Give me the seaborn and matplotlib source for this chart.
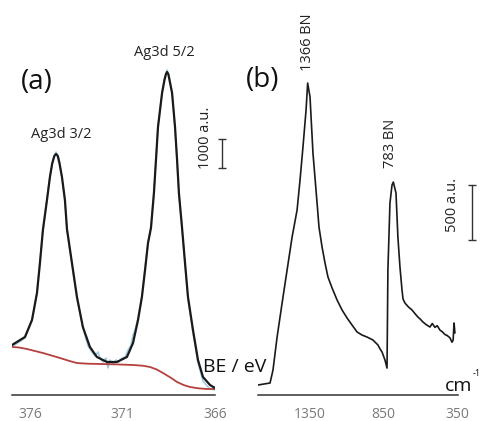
import matplotlib
matplotlib.use("Agg")
import matplotlib.pyplot as plt
import seaborn as sns
import pandas as pd

sns.set_style("white")
plt.rcParams['font.family'] = ['Open Sans', 'DejaVu Sans']

# ---------------- Panel (a): XPS Ag3d ----------------
be_fit = [376.97, 376.27, 375.89, 375.62, 375.46, 375.30, 375.08, 374.92, 374.80, 374.68, 374.59,
          374.50, 374.40, 374.27, 374.11, 374.00, 373.73, 373.46, 373.14, 372.76, 372.38, 371.84,
          371.30, 370.76, 370.43, 370.16, 369.95, 369.78, 369.62, 369.46, 369.30, 369.19,
          369.08, 368.86, 368.73, 368.65, 368.59, 368.52, 368.46, 368.32, 368.16, 368.05, 367.95, 367.78,
          367.62, 367.46, 367.19, 366.92, 366.65, 366.27, 366.00]
int_fit = [1725, 2001, 2588, 3519, 4554, 5693, 6728, 7521, 7980, 8250, 8315,
           8250, 7980, 7521, 6728, 5727, 4554, 3381, 2346, 1656, 1311, 1139,
           1139, 1311, 1794, 2588, 3381, 4313, 5244, 5762, 6969, 8108,
           9246, 10419, 10868, 11070, 11144, 11070, 10868, 10419, 9246, 8108, 6969, 5762,
           4554, 3381, 2243, 1208, 621, 345, 242]

be_raw = [376.97, 376.27, 375.89, 375.62, 375.46, 375.30, 375.08, 374.92, 374.76, 374.59,
          374.43, 374.27, 374.11, 374.00, 373.73, 373.46, 373.14, 372.86, 372.65, 372.49,
          372.32, 372.22, 372.05, 371.89, 371.78, 371.68, 371.51, 371.35, 371.19, 371.03,
          370.86, 370.70, 370.54, 370.43, 370.32, 370.16, 369.95, 369.78, 369.62, 369.46,
          369.30, 369.19, 369.08, 368.86, 368.73, 368.59, 368.46, 368.32, 368.16, 368.05,
          367.95, 367.78, 367.62, 367.46, 367.19, 366.92, 366.65, 366.43, 366.27, 366.00]
int_raw = [1656, 1967, 2553, 3554, 4589, 5658, 6762, 7556, 8108, 8384,
           8177, 7487, 6693, 5693, 4485, 3347, 2312, 1691, 1484, 1346,
           1484, 1277, 1139, 1277, 932, 1208, 1070, 1208, 1139, 1277,
           1311, 1553, 1725, 2070, 2243, 2657, 3416, 4382, 5244, 5831,
           7004, 8108, 9281, 10454, 10937, 11213, 10937, 10454, 9212, 8073,
           6935, 5727, 4520, 3312, 2139, 1104, 483, 311, 207, 173]

be_bg = [376.97, 376.60, 376.16, 375.75, 375.30, 374.85, 374.38, 373.90, 373.46, 372.90,
         372.22, 371.30, 370.43, 369.90, 369.51, 369.15, 368.81, 368.40, 368.05, 367.70,
         367.35, 366.90, 366.43, 366.00]
int_bg = [1656, 1640, 1587, 1520, 1449, 1365, 1277, 1180, 1104, 1080,
          1070, 1055, 1035, 1010, 966, 880, 759, 600, 449, 345,
          276, 230, 207, 207]

xps_ticks = [376, 371, 366]

# ---------------- Panel (b): Raman ----------------
raman_x = [1704, 1622, 1602, 1574, 1540, 1506, 1472, 1438, 1418, 1398,
           1377, 1366, 1350, 1330, 1302, 1289, 1268, 1248, 1228, 1200,
           1166, 1132, 1098, 1064, 1030, 996, 962, 922, 888, 874,
           860, 840, 826, 820, 806, 792, 783, 765, 752, 738,
           724, 717, 704, 680, 656, 636, 616, 600, 582, 560,
           534, 518, 500, 484, 466, 450, 432, 416, 398, 384,
           376, 370, 364]
raman_y = [91, 109, 227, 527, 836, 1136, 1436, 1682, 1954, 2254,
           2590, 2836, 2709, 2200, 1745, 1527, 1345, 1200, 1073, 973,
           864, 773, 700, 636, 573, 545, 527, 500, 455, 420,
           391, 318, 245, 1136, 1745, 1909, 1936, 1836, 1436, 1164,
           955, 873, 836, 800, 773, 740, 709, 690, 664, 640,
           618, 650, 615, 630, 590, 575, 550, 540, 520, 480,
           500, 655, 564]

raman_ticks = [1350, 850, 350]

df_fit = pd.DataFrame({"BE": be_fit, "I": int_fit})
df_raw = pd.DataFrame({"BE": be_raw, "I": int_raw})
df_bg = pd.DataFrame({"BE": be_bg, "I": int_bg})
df_ram = pd.DataFrame({"wn": raman_x, "I": raman_y})

W, H = 480, 421
fig = plt.figure(figsize=(W / 100, H / 100), dpi=100)
ax_a = fig.add_axes([12 / W, 26 / H, 203 / W, 395 / H])
ax_b = fig.add_axes([258 / W, 26 / H, 200 / W, 395 / H])

sns.lineplot(data=df_raw, x="BE", y="I", ax=ax_a, color="#9cc9e0", lw=1.1,
             estimator=None, sort=False)
sns.lineplot(data=df_bg, x="BE", y="I", ax=ax_a, color="#b5403f", lw=1.3,
             estimator=None, sort=False)
sns.lineplot(data=df_fit, x="BE", y="I", ax=ax_a, color="#1a1a1a", lw=1.6,
             estimator=None, sort=False)
sns.lineplot(data=df_ram, x="wn", y="I", ax=ax_b, color="#1a1a1a", lw=1.2,
             estimator=None, sort=False)

ax_a.set_xlim(376.97, 366.0)
ax_a.set_ylim(0, 13627)
ax_b.set_xlim(1704, 343)
ax_b.set_ylim(0, 3591)

for ax, ticks in ((ax_a, xps_ticks), (ax_b, raman_ticks)):
    for s in ("left", "top", "right"):
        ax.spines[s].set_visible(False)
    ax.spines["bottom"].set_color("#333333")
    ax.spines["bottom"].set_linewidth(1.1)
    ax.set_xticks(ticks)
    ax.set_xticklabels([str(t) for t in ticks])
    ax.set_yticks([])
    ax.tick_params(axis="x", direction="out", length=4, width=1.0, color="#333333",
                   labelcolor="#7a7a7a", labelsize=10, pad=5)
    ax.set_xlabel("")
    ax.set_ylabel("")
    ax.patch.set_alpha(0)

# scale bars
ax_a.plot([365.62, 365.62], [7832, 8832], color="#333333", lw=1.0, marker="_",
          markersize=6, clip_on=False)
ax_a.text(366.54, 8867, "1000 a.u.", rotation=90, ha="center", va="center",
          fontsize=10.5, color="#222222")
ax_b.plot([248, 248], [1409, 1909], color="#333333", lw=1.0, marker="_",
          markersize=6, clip_on=False)
ax_b.text(378, 1727, "500 a.u.", rotation=90, ha="center", va="center",
          fontsize=10.5, color="#222222")

# labels
ax_a.text(368.76, 11799, "Ag3d 5/2", ha="center", va="center", fontsize=10.5, color="#222222")
ax_a.text(374.32, 8970, "Ag3d 3/2", ha="center", va="center", fontsize=10.5, color="#222222")
ax_a.text(375.62, 10799, "(a)", ha="center", va="center", fontsize=20, color="#111111")
ax_b.text(1670, 2863, "(b)", ha="center", va="center", fontsize=20, color="#111111")
ax_b.text(1364, 3209, "1366 BN", rotation=90, ha="center", va="center", fontsize=10.5,
          color="#222222")
ax_b.text(799, 2291, "783 BN", rotation=90, ha="center", va="center", fontsize=10.5,
          color="#222222")

fig.text(235 / W, 1 - 367 / H, "BE / eV", ha="center", va="center", fontsize=14,
         color="#111111")
fig.text(459 / W, 1 - 386 / H, "cm", ha="center", va="center", fontsize=14,
         color="#111111")
fig.text(473 / W, 1 - 374 / H, "-1", ha="left", va="center", fontsize=6.5,
         color="#111111")

fig.savefig("out.png", dpi=100)
